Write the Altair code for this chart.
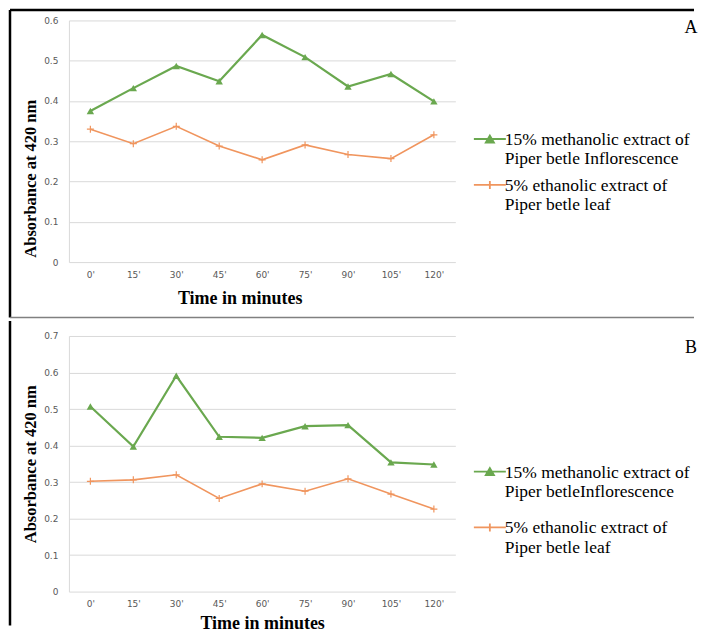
import altair as alt
import pandas as pd

times = ["0'", "15'", "30'", "45'", "60'", "75'", "90'", "105'", "120'"]

a_green_name = "15% methanolic extract of|Piper betle Inflorescence"
a_orange_name = "5% ethanolic extract of|Piper betle leaf"
a_green = [0.375, 0.432, 0.487, 0.449, 0.564, 0.509, 0.436, 0.467, 0.399]
a_orange = [0.330, 0.294, 0.337, 0.288, 0.254, 0.291, 0.267, 0.257, 0.316]

b_green_name = "15% methanolic extract of|Piper betleInflorescence"
b_orange_name = "5% ethanolic extract of|Piper betle leaf "
b_green = [0.507, 0.397, 0.591, 0.424, 0.421, 0.453, 0.456, 0.354, 0.348]
b_orange = [0.302, 0.306, 0.320, 0.255, 0.295, 0.275, 0.309, 0.267, 0.226]

a_ticks = [0, 0.1, 0.2, 0.3, 0.4, 0.5, 0.6]
b_ticks = [0, 0.1, 0.2, 0.3, 0.4, 0.5, 0.6, 0.7]

GREEN = "#6aa84f"
ORANGE = "#f0955e"
PLUS = "M-1,0H1M0,-1V1"
# legend symbols in pixels: line + marker (a trailing move-to sets the entry's height)
LEG_SERIES = [a_green_name, a_orange_name, b_green_name, b_orange_name]
LEG_COLORS = [GREEN, ORANGE, GREEN, ORANGE]
G_SYM = "M-1.2,8H30.8M10.7,11.5L18.9,11.5L14.8,4.5Z"
O_SYM = "M-1.2,8H30.8M14.8,4V12"
LEG_PATHS = [G_SYM, O_SYM + "M0,274.5", G_SYM + "M0,42.7", O_SYM]
SERIF = "Liberation Serif"
SANS = "DejaVu Sans"
W = 387


def panel(gname, gvals, oname, ovals, ticks, height, letter, letter_y,
          xtitle_pad, ytitle_y, xtitle_x, top_panel):
    df = pd.DataFrame({
        "time": times * 2,
        "value": gvals + ovals,
        "series": [gname] * len(times) + [oname] * len(times),
    })
    xaxis = dict(title="Time in minutes", titleFont=SERIF, titleFontSize=18,
                 titleFontWeight="bold", titleColor="black", titlePadding=xtitle_pad,
                 labelAngle=0, labelFont=SANS, labelFontSize=9, labelColor="#595959",
                 labelPadding=8, ticks=False, tickSize=0, domain=False, grid=False)
    if xtitle_x is not None:
        xaxis["titleX"] = xtitle_x
    yaxis = dict(title="Absorbance at 420 nm", titleFont=SERIF, titleFontSize=16.5,
                 titleFontWeight="bold", titleColor="black", titlePadding=5,
                 values=ticks, format=".1~f", labelFont=SANS, labelFontSize=9,
                 labelColor="#595959", labelPadding=11, ticks=False, tickSize=0,
                 domain=True, domainColor="#d9d9d9", grid=True, gridColor="#d9d9d9")
    if ytitle_y is not None:
        yaxis["titleY"] = ytitle_y
    x = alt.X("time:O", sort=times, scale=alt.Scale(type="point", padding=0.5),
              axis=alt.Axis(**xaxis))
    y = alt.Y("value:Q", scale=alt.Scale(domain=[0, ticks[-1]], nice=False),
              axis=alt.Axis(**yaxis))
    base = alt.Chart(df)
    g = base.transform_filter(alt.datum.series == gname)
    o = base.transform_filter(alt.datum.series == oname)
    line_g = g.mark_line(color=GREEN, strokeWidth=2.2).encode(x=x, y=y)
    line_o = o.mark_line(color=ORANGE, strokeWidth=1.6).encode(x=x, y=y)
    tri = g.mark_point(shape="triangle-up", filled=True, size=55, color=GREEN,
                       opacity=1).encode(x=x, y=y)
    plus = o.mark_point(shape=PLUS, filled=False, size=49, color=ORANGE,
                        strokeWidth=1.2, opacity=1).encode(x=x, y=y)
    one = pd.DataFrame({"k": [0]})
    txt = alt.Chart(one).mark_text(text=letter, font=SERIF, fontSize=18, align="center",
                                   baseline="alphabetic", color="black").encode(
        x=alt.value(623), y=alt.value(letter_y))
    layers = [line_g, line_o, tri, plus, txt]
    if top_panel:
        leg = alt.Legend(title=None, orient="none", legendX=398, legendY=102,
                         labelExpr="split(datum.label, '|')", labelFont=SERIF,
                         labelFontSize=17.5, labelColor="black", labelBaseline="top",
                         labelLimit=400, symbolSize=4, symbolStrokeWidth=1.8,
                         symbolOpacity=1, rowPadding=-12.6, padding=0, labelOffset=21)
        legend_layer = base.transform_filter("false").mark_point(filled=True).encode(
            x=x, y=y,
            fill=alt.Fill("series:N", scale=alt.Scale(domain=LEG_SERIES, range=LEG_COLORS), legend=leg),
            stroke=alt.Stroke("series:N", scale=alt.Scale(domain=LEG_SERIES, range=LEG_COLORS), legend=leg),
            shape=alt.Shape("series:N", scale=alt.Scale(domain=LEG_SERIES, range=LEG_PATHS), legend=leg),
        )
        layers.append(legend_layer)
        layers.append(alt.Chart(one).mark_rule(color="black", strokeWidth=2.5).encode(
            x=alt.value(-59), y=alt.value(-10.5), y2=alt.value(297.5)))
        layers.append(alt.Chart(one).mark_rule(color="black", strokeWidth=2.5).encode(
            x=alt.value(-59), x2=alt.value(626), y=alt.value(-10.5)))
        layers.append(alt.Chart(one).mark_rule(color="#808080", strokeWidth=1.5).encode(
            x=alt.value(-59), x2=alt.value(626), y=alt.value(297.5)))
    else:
        layers.append(alt.Chart(one).mark_rule(color="black", strokeWidth=2.5).encode(
            x=alt.value(-59), y=alt.value(-15), y2=alt.value(290)))
    return alt.layer(*layers).properties(width=W, height=height)


top = panel(a_green_name, a_green, a_orange_name, a_orange, a_ticks, 242, "A", 12.3,
            10, 158, 171, True)
bottom = panel(b_green_name, b_green, b_orange_name, b_orange, b_ticks, 256, "B", 16.7,
               6, None, None, False)

chart = alt.vconcat(top, bottom, spacing=0).properties(
    padding={"left": 0, "top": 0, "right": 0, "bottom": 0}
).configure_view(stroke=None).configure_legend(
    labelFont=SERIF, labelFontSize=17.5, labelColor="black"
)

chart.save("out.html", embed_options={"renderer": "svg", "actions": False})
